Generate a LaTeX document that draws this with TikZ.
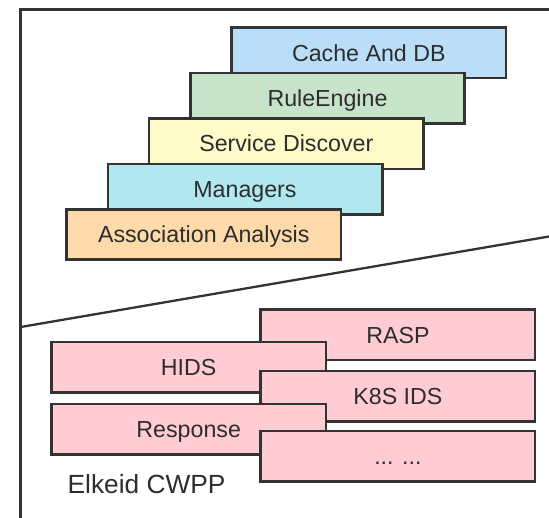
\documentclass[tikz,border=0pt]{standalone}
\usepackage{fontspec}
\setmainfont{Liberation Sans}
\usepackage{tikz}
\usetikzlibrary{positioning}
\usepackage{xcolor}

\definecolor{linegray}{RGB}{51,51,51}
\definecolor{textgray}{RGB}{45,45,45}
\definecolor{cacheblue}{RGB}{187,222,248}
\definecolor{rulegreen}{RGB}{199,228,203}
\definecolor{discyellow}{RGB}{255,250,201}
\definecolor{mgrcyan}{RGB}{177,232,240}
\definecolor{assocorange}{RGB}{253,218,170}
\definecolor{cwpppink}{RGB}{255,204,211}

\begin{document}
\begin{tikzpicture}[
  x=1pt, y=-1pt,
  layer/.style={draw=linegray, line width=2.6pt, fill=#1,
    minimum width=274.4pt, minimum height=50.4pt, inner sep=0pt,
    text height=16.6pt, text depth=0pt, text=textgray,
    font=\fontsize{23.2}{27}\selectfont},
  tag/.style={text=textgray, inner sep=0pt, font=\fontsize{26.3}{31}\selectfont},
  frame/.style={draw=linegray, line width=2.7pt, line join=miter},
  divider/.style={draw=linegray, line width=2.3pt}
]
  \useasboundingbox (0,0) rectangle (549,518);

  % outer frame and the split between the two halves
  \draw[frame] (549,9.3) -- (20.7,9.3) -- (20.7,518);
  \draw[divider] (20.7,327) -- (549,236.5);

  % server side, drawn from the top step down so each lower step covers the one above
  \node[layer=cacheblue] (cache) at (368.8,52.9) {Cache And DB};
  \node[layer=rulegreen] (rule) at (327.5,98.4) {RuleEngine};
  \node[layer=discyellow] (disc) at (286.3,143.7) {Service Discover};
  \node[layer=mgrcyan] (mgr) at (245,189.1) {Managers};
  \node[layer=assocorange] (assoc) at (203.8,234.5) {Association Analysis};

  % agent side
  \node[layer=cwpppink] (rasp) at (397.9,334.8) {RASP};
  \node[layer=cwpppink] (hids) at (188.7,367.2) {HIDS};
  \node[layer=cwpppink] (k8s) at (397.9,396.2) {K8S IDS};
  \node[layer=cwpppink] (resp) at (188.7,429.2) {Response};
  \node[layer=cwpppink] (more) at (397.9,456.4) {... ...};

  \node[tag, anchor=base west] (cwpp) at (67.5,493.3) {Elkeid CWPP};

\end{tikzpicture}
\end{document}
